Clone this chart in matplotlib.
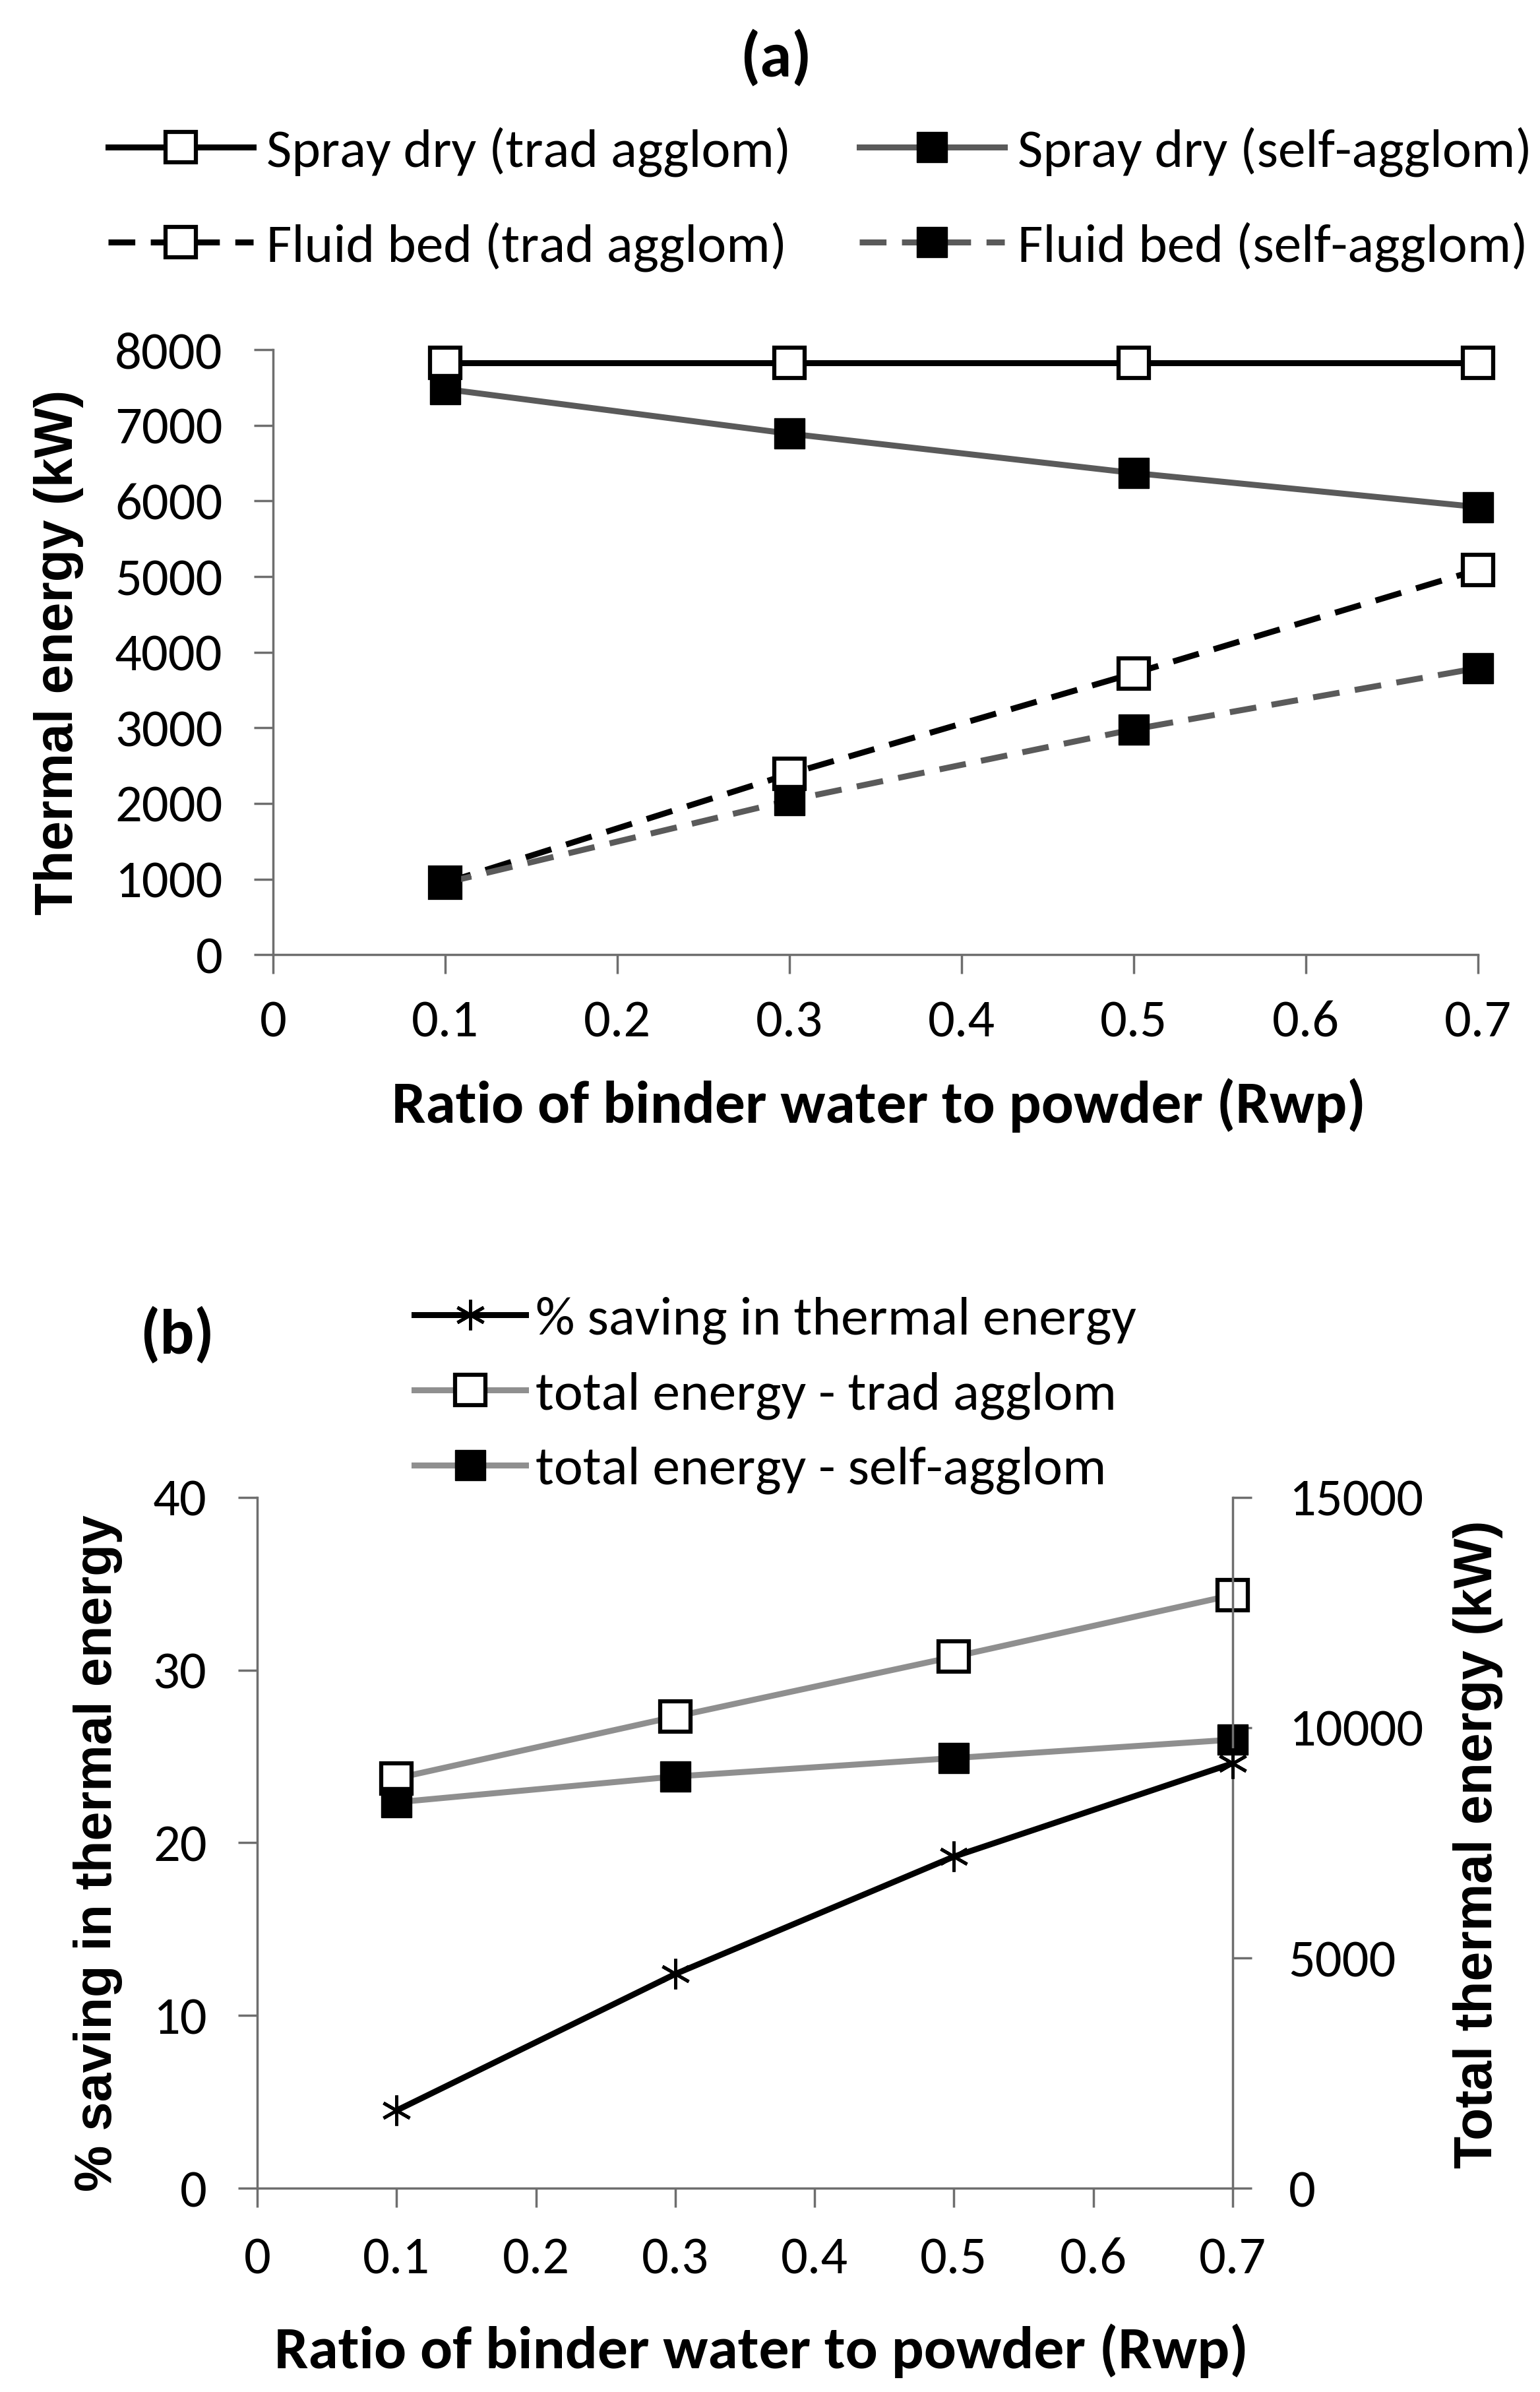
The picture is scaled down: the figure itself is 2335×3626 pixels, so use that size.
import matplotlib
matplotlib.use("Agg")
import matplotlib.pyplot as plt
from matplotlib import font_manager

# font close to Calibri: Carlito if there, otherwise Lato
names = {f.name for f in font_manager.fontManager.ttflist}
BASE = "Carlito" if "Carlito" in names else "Lato"
plt.rcParams["font.family"] = [BASE, "DejaVu Sans"]

rwp = [0.1, 0.3, 0.5, 0.7]

# panel (a)
spray_trad = [7830, 7830, 7830, 7830]
spray_self = [7480, 6890, 6370, 5920]
fluid_trad = [950, 2390, 3720, 5090]
fluid_self = [950, 2040, 2980, 3790]

# panel (b)
saving_pct = [4.5, 12.4, 19.2, 24.6]
total_trad = [8900, 10240, 11540, 12880]
total_self = [8380, 8940, 9340, 9740]

GREY = "#5a5a5a"
LGREY = "#8f8f8f"
AXC = "#6e6e6e"
TICK_FS = 58
LEG_FS = 60
YLAB_FS = 57
XLAB_FS = 66
MS = 33
LW = 6.5
DASH = (0, (4.5, 2.6))
YLAB_FONT = ["Liberation Sans", "DejaVu Sans"]

fig = plt.figure(figsize=(23.35, 36.26), dpi=100)


def style_axis(ax, xpad):
    for s in ["top", "right"]:
        ax.spines[s].set_visible(False)
    for s in ["left", "bottom"]:
        ax.spines[s].set_color(AXC)
        ax.spines[s].set_linewidth(2.5)
    ax.tick_params(axis="both", labelsize=TICK_FS, color=AXC, width=2.5,
                   length=21, direction="out")
    ax.tick_params(axis="y", pad=34)
    ax.tick_params(axis="x", pad=xpad)
    ax.set_xlim(0, 0.7)
    ax.set_xticks([0, 0.1, 0.2, 0.3, 0.4, 0.5, 0.6, 0.7])
    ax.set_xticklabels(["0", "0.1", "0.2", "0.3", "0.4", "0.5", "0.6", "0.7"])


# ---------- (a)
ax1 = fig.add_axes([0.1773, 0.6009, 0.7824, 0.2529])
style_axis(ax1, 28)
l1, = ax1.plot(rwp, spray_trad, color="black", lw=LW, marker="s", ms=MS,
               mfc="white", mec="black", mew=4.5, label="Spray dry (trad agglom)", clip_on=False)
l2, = ax1.plot(rwp, spray_self, color=GREY, lw=LW, marker="s", ms=MS,
               mfc="black", mec="black", label="Spray dry (self-agglom)", clip_on=False)
l3, = ax1.plot(rwp, fluid_trad, color="black", lw=LW, ls=DASH, marker="s",
               ms=MS, mfc="white", mec="black", mew=4.5, label="Fluid bed (trad agglom)",
               clip_on=False)
l4, = ax1.plot(rwp, fluid_self, color=GREY, lw=LW, ls=DASH, marker="s",
               ms=MS, mfc="black", mec="black", label="Fluid bed (self-agglom)", clip_on=False)
ax1.set_ylim(0, 8000)
ax1.set_yticks(range(0, 8001, 1000))
ax1.set_ylabel("Thermal energy (kW)", fontsize=58, fontweight="bold",
               family=YLAB_FONT, va="center", ha="center")
ax1.yaxis.set_label_coords(-0.178, 0.5)
ax1.set_xlabel("Ratio of binder water to powder (Rwp)", fontsize=XLAB_FS,
               fontweight="bold", va="center")
ax1.xaxis.set_label_coords(0.503, -0.249)
fig.text(0.504, 0.9757, "(a)", fontsize=70, fontweight="bold", ha="center", va="center")
fig.legend(handles=[l1, l3, l2, l4], ncol=2, loc="center",
           bbox_to_anchor=(0.5326, 0.9167), frameon=False, fontsize=LEG_FS,
           borderpad=0, borderaxespad=0,
           handlelength=2.64, handletextpad=0.24, columnspacing=1.25, labelspacing=0.82)

# ---------- (b)
ax2 = fig.add_axes([0.167, 0.0852, 0.6334, 0.2888])
style_axis(ax2, 32)
ax3 = ax2.twinx()
for s in ["top", "left", "bottom"]:
    ax3.spines[s].set_visible(False)
ax3.spines["right"].set_color(AXC)
ax3.spines["right"].set_linewidth(2.5)
ax3.tick_params(axis="y", labelsize=TICK_FS, color=AXC, width=2.5, length=21,
                direction="out", pad=40)

l5, = ax2.plot(rwp, saving_pct, color="black", lw=LW, marker=(6, 2, 0), ms=MS,
               mec="black", mew=3.5, label="% saving in thermal energy", zorder=5,
               clip_on=False)
l6, = ax3.plot(rwp, total_trad, color=LGREY, lw=LW, marker="s", ms=MS,
               mfc="white", mec="black", mew=4.5, label="total energy - trad agglom",
               clip_on=False)
l7, = ax3.plot(rwp, total_self, color=LGREY, lw=LW, marker="s", ms=MS,
               mfc="black", mec="black", label="total energy - self-agglom", clip_on=False)
ax2.set_ylim(0, 40)
ax2.set_yticks([0, 10, 20, 30, 40])
ax3.set_ylim(0, 15000)
ax3.set_yticks([0, 5000, 10000, 15000])
ax2.set_zorder(ax3.get_zorder() + 1)
ax2.patch.set_visible(False)

ax2.set_ylabel("% saving in thermal energy", fontsize=YLAB_FS, fontweight="bold",
               family=YLAB_FONT, va="center", ha="center")
ax2.yaxis.set_label_coords(-0.163, 0.485)
ax3.set_ylabel("Total thermal energy (kW)", fontsize=58, fontweight="bold",
               family=YLAB_FONT, va="center", ha="center")
ax3.yaxis.set_label_coords(1.2515, 0.498)
ax2.set_xlabel("Ratio of binder water to powder (Rwp)", fontsize=XLAB_FS,
               fontweight="bold", va="center")
ax2.xaxis.set_label_coords(0.517, -0.235)
fig.text(0.115, 0.442, "(b)", fontsize=70, fontweight="bold", ha="center", va="center")
fig.legend(handles=[l5, l6, l7], ncol=1, loc="center left",
           bbox_to_anchor=(0.269, 0.4168), frameon=False, fontsize=LEG_FS,
           borderpad=0, borderaxespad=0,
           handlelength=2.03, handletextpad=0.18, labelspacing=0.48)

fig.savefig("out.png", dpi=100)
